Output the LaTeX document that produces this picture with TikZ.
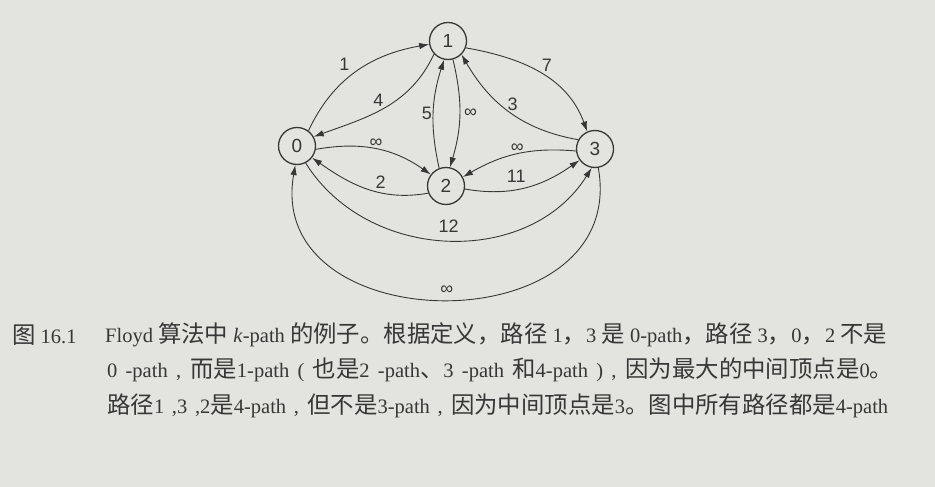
\documentclass[tikz,border=0pt]{standalone}
\usepackage{fontspec}
\setmainfont{Liberation Serif}
\newfontfamily\cjk{Noto Sans CJK SC}
\newfontfamily\lbl{Liberation Sans}
\usepackage{tikz}
\usetikzlibrary{arrows.meta, positioning}
\usepackage{xcolor}
\definecolor{paper}{RGB}{227,227,223}
\definecolor{ink}{RGB}{55,55,55}
\newcommand{\zh}[1]{{\cjk\fontsize{23.4}{23.4}\selectfont #1}}
\newcommand{\capfill}[2]{\makebox[#1][s]{#2}}

\begin{document}
\begin{tikzpicture}[x=1pt,y=1pt,
    vertex/.style={circle,draw=ink,line width=1.3pt,minimum size=37pt,inner sep=0pt,
        font=\lbl\fontsize{19}{19}\selectfont,text=ink},
    arc/.style={draw=ink,line width=0.9pt,-{Latex[length=10pt,width=6.5pt]}},
    wt/.style={font=\lbl\fontsize{18}{18}\selectfont,text=ink,inner sep=1pt},
    capline/.style={anchor=west,inner sep=0pt,text=ink,font=\fontsize{20.5}{20.5}\selectfont}]

    \fill[paper] (0,0) rectangle (935,-487);

    % vertices
    \node[vertex] (v0) at (297,-146) {0};
    \node[vertex] (v1) at (448,-41) {1};
    \node[vertex] (v2) at (446,-186) {2};
    \node[vertex] (v3) at (595,-149) {3};

    % arcs
    \draw[arc] (v0.53) to[out=65,in=190] node[wt,pos=0.45,above left,yshift=4pt] {1} (v1.190);
    \draw[arc] (v1.223) to[out=245,in=20] node[wt,above left] {4} (v0.29);
    \draw[arc] (v0.-10) to[out=10,in=145] node[wt,above] {∞} (v2.143);
    \draw[arc] (v2.202) to[out=190,in=-35] node[wt,pos=0.38,above=3pt] {2} (v0.-38);
    \draw[arc] (v2.111) to[bend left=15] node[wt,left] {5} (v1.258);
    \draw[arc] (v1.285) to[bend left=15] node[wt,right=3pt] {∞} (v2.78);
    \draw[arc] (v1.-21) to[out=-10,in=110] node[wt,above right] {7} (v3.114);
    \draw[arc] (v3.151) to[out=170,in=-60] node[wt,above,xshift=3pt] {3} (v1.-45);
    \draw[arc] (v3.186) to[out=175,in=30] node[wt,above] {∞} (v2.28);
    \draw[arc] (v2.-9) to[out=-10,in=215] node[wt,pos=0.42,above=6pt] {11} (v3.216);
    \draw[arc] (v0.-63) to[out=-58,in=238,looseness=1.05] node[wt,above=6pt] {12} (v3.260);
    \draw[arc] (v3.280) to[out=-80,in=-100,looseness=1.52] node[wt,above=4pt] {∞} (v0.-95);

    % caption
    \node[capline] (cap0) at (12,-335) {\zh{图} 16.1};
    \node[capline] (cap1) at (105,-335) {\capfill{782pt}{Floyd \zh{算法中} \textit{k}-path \zh{的例子。根据定义，路径} 1\zh{，}3 \zh{是} 0-path\zh{，路径} 3\zh{，}0\zh{，}2 \zh{不是}}};
    \node[capline] (cap2) at (107,-370) {\capfill{786pt}{0 -path , \zh{而是}1-path ( \zh{也是}2 -path\zh{、}3 -path \zh{和}4-path ) , \zh{因为最大的中间顶点是}0\zh{。}}};
    \node[capline] (cap3) at (107,-406) {\capfill{781pt}{\zh{路径}1 ,3 ,2\zh{是}4-path , \zh{但不是}3-path , \zh{因为中间顶点是}3\zh{。图中所有路径都是}4-path}};
\end{tikzpicture}
\end{document}
